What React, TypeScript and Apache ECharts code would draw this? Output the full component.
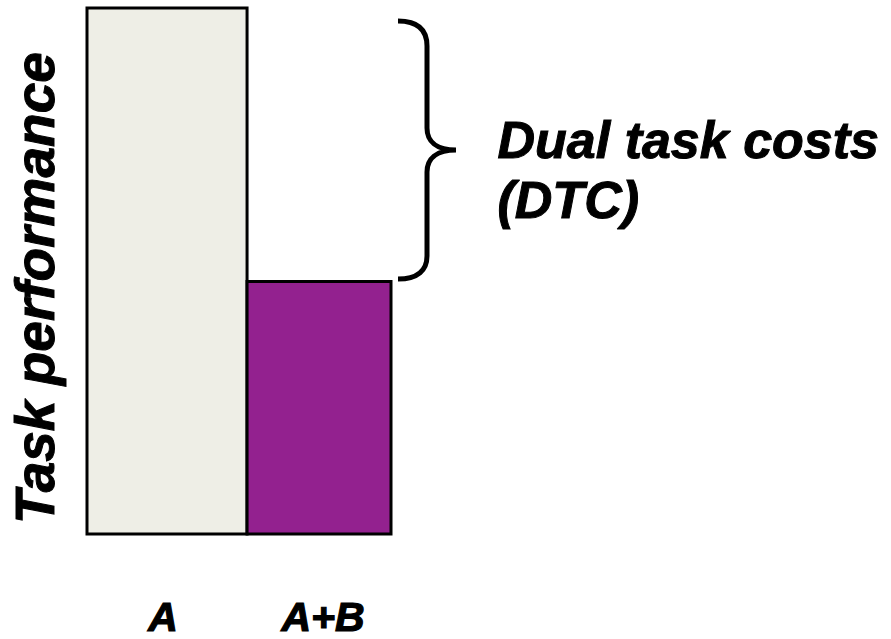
import React, { useEffect, useRef } from "react";
import * as echarts from "echarts";

const categories = ["A", "A+B"];
const performance = [100, 48];
const barColors = ["#EEEEE6", "#93218F"];
const annotation = "Dual task costs\n(DTC)";
const yName = "Task performance";

const FONT = '"Liberation Sans", Arial, sans-serif';

const bracePath =
  "M398 21 C418 21 427 30 427 46 L427 128 C427 141 436 150 456 150 C436 150 427 159 427 172 L427 256 C427 270 418 279 398 279";

echarts.graphic.registerShape("brace", (echarts.graphic as any).extendPath(bracePath, {}));

export default function App() {
  const ref = useRef<HTMLDivElement>(null);
  useEffect(() => {
    document.body.style.margin = "0";
    const chart = echarts.init(ref.current!, null, { renderer: "svg" });
    const labelStyle = {
      fontSize: 41,
      lineHeight: 34,
      fontWeight: "bold",
      fontStyle: "italic",
      fontFamily: FONT,
      color: "#000",
      textBorderColor: "#000",
      textBorderWidth: 1.2,
    };
    const option: any = {
      animation: false,
      grid: { left: 87, right: 500, top: 8, bottom: 105, outerBoundsMode: "none", containLabel: false },
      xAxis: {
        type: "category",
        data: categories,
        axisLine: { show: false },
        axisTick: { show: false },
        axisLabel: {
          interval: 0,
          hideOverlap: false,
          margin: 66,
          ...labelStyle,
          formatter: (v: string, i: number) => (i === 1 ? `{s|${v}}` : `{n|${v}}`),
          rich: {
            n: { ...labelStyle },
            s: { ...labelStyle, padding: [0, 0, 0, 16] },
          },
        },
      },
      yAxis: {
        type: "value",
        min: 0,
        max: 100,
        axisLine: { show: false },
        axisTick: { show: false },
        axisLabel: { show: false },
        splitLine: { show: false },
      },
      series: [
        {
          type: "custom",
          data: performance.map((v, i) => [i, v]),
          renderItem: (params: any, api: any) => {
            const i = api.value(0);
            const v = api.value(1);
            const c = api.coord([i, v]);
            const base = api.coord([i, 0]);
            const band = api.size([1, 0])[0];
            const shift = band * 0.053;
            let left = c[0] - band / 2;
            let right = c[0] + band / 2;
            if (i === 0) right += shift;
            else left += shift;
            return {
              type: "rect",
              shape: { x: left, y: c[1], width: right - left, height: base[1] - c[1] },
              style: { fill: barColors[i], stroke: "#000", lineWidth: 3 },
            };
          },
        },
      ],
      graphic: [
        {
          type: "text",
          x: 35,
          y: 288,
          rotation: Math.PI / 2,
          style: {
            text: yName,
            font: `italic bold 55px ${FONT}`,
            align: "center",
            verticalAlign: "middle",
            fill: "#000",
            stroke: "#000",
            lineWidth: 1,
          },
        },
        {
          type: "brace",
          x: 0,
          y: 0,
          style: { fill: null, stroke: "#000", lineWidth: 5, lineCap: "butt" },
        },
        {
          type: "text",
          left: 497,
          top: 110,
          style: {
            text: annotation,
            font: `italic bold 52px ${FONT}`,
            lineHeight: 60,
            fill: "#000",
            stroke: "#000",
            lineWidth: 1,
          },
        },
      ],
    };
    chart.setOption(option);
    return () => chart.dispose();
  }, []);
  return <div ref={ref} style={{ width: 891, height: 639 }} />;
}
